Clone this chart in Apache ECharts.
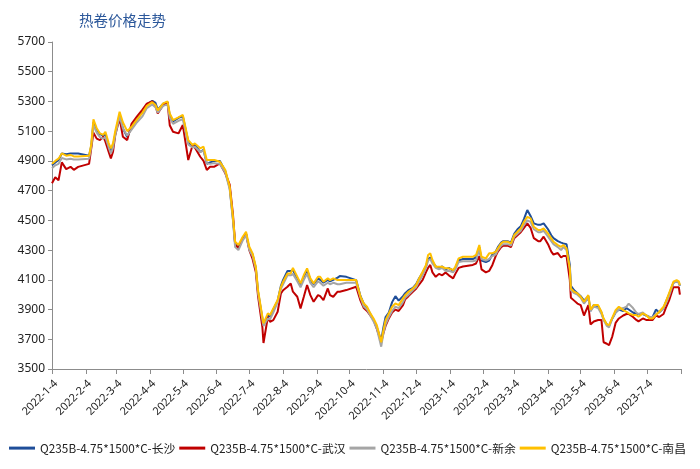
<!DOCTYPE html>
<html>
<head>
<meta charset="utf-8">
<script src="https://cdn.jsdelivr.net/npm/echarts@6/dist/echarts.min.js"></script>
<style>html,body{margin:0;padding:0;background:#fff}#c{width:700px;height:469px}</style>
</head>
<body>
<div id="c"></div>
<script>
const titleText = '热卷价格走势';
const seriesNames = ['Q235B-4.75*1500*C-长沙','Q235B-4.75*1500*C-武汉','Q235B-4.75*1500*C-新余','Q235B-4.75*1500*C-南昌'];
const tickLabels = ['2022-1-4','2022-2-4','2022-3-4','2022-4-4','2022-5-4','2022-6-4','2022-7-4','2022-8-4','2022-9-4','2022-10-4','2022-11-4','2022-12-4','2023-1-4','2023-2-4','2023-3-4','2023-4-4','2023-5-4','2023-6-4','2023-7-4'];
const axisEnd = '2023-8-4';
const dates = [
'2022-01-04','2022-01-07','2022-01-10','2022-01-13','2022-01-17','2022-01-21','2022-01-24','2022-01-28','2022-02-07','2022-02-09',
'2022-02-11','2022-02-14','2022-02-17','2022-02-20','2022-02-22','2022-02-25','2022-02-27','2022-03-01','2022-03-03','2022-03-07',
'2022-03-10','2022-03-14','2022-03-18','2022-03-23','2022-03-28','2022-04-01','2022-04-06','2022-04-09','2022-04-11','2022-04-16',
'2022-04-20','2022-04-22','2022-04-25','2022-04-30','2022-05-04','2022-05-09','2022-05-13','2022-05-15','2022-05-20','2022-05-23',
'2022-05-26','2022-05-29','2022-06-02','2022-06-07','2022-06-12','2022-06-16','2022-06-19','2022-06-21','2022-06-24','2022-06-28',
'2022-07-01','2022-07-04','2022-07-07','2022-07-10','2022-07-12','2022-07-16','2022-07-17','2022-07-21','2022-07-23','2022-07-26',
'2022-07-30','2022-08-02','2022-08-04','2022-08-08','2022-08-11','2022-08-13','2022-08-17','2022-08-20','2022-08-23','2022-08-26',
'2022-08-29','2022-09-01','2022-09-05','2022-09-07','2022-09-10','2022-09-14','2022-09-16','2022-09-19','2022-09-23','2022-09-25',
'2022-10-01','2022-10-10','2022-10-14','2022-10-17','2022-10-20','2022-10-23','2022-10-26','2022-10-29','2022-11-02','2022-11-04',
'2022-11-06','2022-11-09','2022-11-12','2022-11-15','2022-11-18','2022-11-22','2022-11-24','2022-11-27','2022-12-01','2022-12-04',
'2022-12-06','2022-12-10','2022-12-13','2022-12-15','2022-12-17','2022-12-19','2022-12-22','2022-12-25','2022-12-28','2022-12-31',
'2023-01-03','2023-01-07','2023-01-09','2023-01-12','2023-01-16','2023-01-25','2023-01-28','2023-01-31','2023-02-02','2023-02-06',
'2023-02-09','2023-02-12','2023-02-15','2023-02-17','2023-02-20','2023-02-22','2023-02-26','2023-03-01','2023-03-04','2023-03-07',
'2023-03-10','2023-03-13','2023-03-16','2023-03-19','2023-03-22','2023-03-26','2023-03-28','2023-03-31','2023-04-04','2023-04-07',
'2023-04-09','2023-04-13','2023-04-16','2023-04-18','2023-04-21','2023-04-24','2023-04-25','2023-04-28','2023-05-01','2023-05-04',
'2023-05-07','2023-05-11','2023-05-13','2023-05-16','2023-05-20','2023-05-23','2023-05-25','2023-05-28','2023-05-30','2023-06-02',
'2023-06-05','2023-06-08','2023-06-12','2023-06-15','2023-06-17','2023-06-21','2023-06-24','2023-06-26','2023-06-30','2023-07-03',
'2023-07-06','2023-07-09','2023-07-12','2023-07-15','2023-07-19','2023-07-21','2023-07-24','2023-07-28','2023-07-31','2023-08-02',
'2023-08-03'
];
const changsha = [
4870,4890,4905,4950,4945,4950,4950,4950,4935,5000,
5160,5110,5080,5070,5080,5000,4970,5000,5080,5210,
5120,5060,5130,5180,5230,5280,5305,5290,5245,5285,
5295,5210,5165,5190,5200,5030,4990,5010,4960,4975,
4880,4890,4900,4900,4830,4720,4510,4340,4320,4380,
4410,4310,4270,4180,4020,3840,3800,3860,3855,3900,
3960,4060,4100,4160,4160,4165,4110,4070,4120,4165,
4100,4070,4110,4100,4080,4100,4090,4100,4115,4125,
4120,4098,3990,3940,3910,3870,3830,3780,3690,3780,
3850,3880,3950,3990,3960,3990,4010,4030,4045,4070,
4100,4150,4190,4240,4250,4220,4190,4180,4190,4170,
4180,4160,4180,4230,4240,4240,4250,4320,4230,4220,
4230,4270,4290,4320,4350,4360,4360,4350,4410,4440,
4460,4510,4569,4530,4480,4470,4470,4480,4440,4400,
4380,4360,4350,4345,4340,4200,4060,4030,4010,3990,
3960,3990,3890,3930,3920,3880,3835,3800,3790,3840,
3880,3900,3890,3910,3900,3880,3870,3870,3870,3860,
3850,3850,3900,3880,3910,3950,4000,4080,4090,4080,
4060
];
const wuhan = [
4750,4790,4770,4890,4845,4860,4840,4860,4880,4985,
5090,5050,5040,5063,5030,4960,4917,4962,5074,5186,
5063,5040,5150,5200,5245,5285,5300,5270,5220,5276,
5295,5140,5096,5085,5141,4906,5007,4990,4928,4900,
4839,4861,4861,4883,4816,4740,4540,4340,4310,4380,
4410,4300,4240,4150,3990,3780,3675,3850,3818,3829,
3885,4009,4030,4053,4076,4020,3986,3908,3986,4065,
3997,3952,3997,3990,3964,4042,3997,3986,4020,4020,
4031,4053,3960,3910,3890,3860,3830,3770,3680,3740,
3790,3840,3880,3900,3890,3930,3970,3990,4020,4040,
4060,4100,4150,4180,4200,4150,4120,4140,4130,4150,
4130,4110,4140,4180,4190,4200,4210,4260,4170,4150,
4160,4200,4260,4290,4320,4330,4330,4320,4380,4400,
4420,4450,4480,4450,4380,4360,4360,4390,4340,4290,
4270,4280,4250,4260,4260,4100,3980,3960,3940,3930,
3860,3930,3800,3820,3830,3830,3680,3670,3660,3720,
3810,3840,3860,3870,3870,3850,3830,3820,3840,3830,
3830,3830,3860,3850,3870,3910,3960,4050,4050,4050,
4000
];
const xinyu = [
4850,4870,4880,4920,4910,4915,4910,4910,4915,4990,
5140,5090,5060,5050,5060,4990,4950,4990,5070,5200,
5120,5070,5110,5160,5200,5255,5280,5260,5225,5270,
5280,5190,5150,5170,5180,5010,4990,4995,4960,4970,
4885,4880,4885,4880,4820,4710,4500,4320,4300,4365,
4400,4300,4260,4170,4010,3830,3790,3840,3835,3880,
3950,4040,4070,4130,4130,4140,4090,4050,4100,4140,
4080,4050,4090,4080,4060,4080,4070,4080,4070,4070,
4080,4080,3980,3920,3900,3860,3820,3770,3650,3740,
3800,3850,3890,3920,3910,3950,3980,4000,4030,4050,
4080,4130,4180,4230,4240,4210,4180,4170,4180,4160,
4160,4150,4170,4220,4225,4225,4230,4310,4240,4230,
4240,4260,4270,4300,4330,4340,4340,4330,4390,4410,
4430,4470,4500,4490,4440,4420,4420,4430,4390,4360,
4340,4320,4300,4320,4300,4170,4030,4010,4000,3980,
3940,3980,3890,3920,3910,3870,3830,3790,3780,3840,
3880,3900,3910,3920,3940,3910,3880,3870,3880,3860,
3850,3850,3870,3880,3910,3940,3990,4080,4090,4080,
4060
];
const nanchang = [
4880,4900,4915,4950,4935,4940,4930,4930,4935,5010,
5180,5120,5085,5075,5096,5020,4985,5020,5100,5231,
5160,5100,5130,5180,5225,5270,5295,5276,5240,5287,
5300,5220,5175,5193,5209,5040,5007,5018,4985,4996,
4906,4906,4906,4894,4839,4726,4524,4356,4334,4390,
4423,4322,4278,4188,4031,3851,3807,3874,3863,3908,
3964,4053,4087,4143,4143,4180,4121,4076,4132,4177,
4110,4076,4121,4121,4087,4110,4098,4110,4098,4098,
4098,4098,3986,3941,3919,3874,3840,3795,3680,3760,
3829,3874,3919,3941,3930,3975,3997,4020,4042,4065,
4098,4154,4199,4267,4278,4233,4188,4188,4188,4177,
4177,4166,4188,4244,4255,4255,4267,4334,4255,4244,
4278,4278,4289,4312,4345,4356,4356,4345,4401,4423,
4446,4491,4524,4513,4457,4435,4435,4446,4412,4379,
4356,4334,4322,4334,4312,4177,4042,4020,4009,3986,
3952,3997,3900,3930,3930,3885,3840,3800,3795,3845,
3896,3919,3896,3885,3874,3863,3863,3851,3874,3863,
3840,3840,3863,3885,3919,3952,4009,4087,4098,4090,
4065
];
const colors = ['#1F4E99','#C00000','#A5A5A5','#FFC000'];

function toTs(s){const p=s.split('-').map(Number);return new Date(p[0],p[1]-1,p[2]).getTime();}
function fmt(v){const d=new Date(v);return d.getFullYear()+'-'+(d.getMonth()+1)+'-'+d.getDate();}
const labelVals = tickLabels.map(toTs);
const tickVals = labelVals.concat([toTs(axisEnd)]);
const allVals = [changsha, wuhan, xinyu, nanchang];

const chart = echarts.init(document.getElementById('c'));
chart.setOption({
  animation:false,
  backgroundColor:'#fff',
  title:{text:titleText,left:74,top:8,textStyle:{color:'#2B579A',fontSize:14.5,fontWeight:'normal',fontFamily:'Noto Sans CJK SC'}},
  grid:{left:52,right:19,top:42,bottom:100,containLabel:false},
  legend:{bottom:10,left:4,width:696,itemGap:4,itemWidth:26,itemHeight:3,icon:'rect',
    textStyle:{fontSize:11.8,color:'#222',fontFamily:'Noto Sans CJK SC'},
    data:seriesNames},
  xAxis:{type:'value',min:toTs(tickLabels[0]),max:toTs(axisEnd),scale:true,
    axisLine:{lineStyle:{color:'#8C8C8C'}},
    axisTick:{show:true,customValues:tickVals,length:5,lineStyle:{color:'#8C8C8C'}},
    axisLabel:{customValues:labelVals,rotate:45,fontSize:11,color:'#222',margin:9,verticalAlign:'top',formatter:fmt,fontFamily:'Noto Sans'},
    splitLine:{show:false}},
  yAxis:{type:'value',min:3500,max:5700,interval:200,
    axisLine:{show:true,lineStyle:{color:'#8C8C8C'}},
    axisTick:{show:true,length:4,lineStyle:{color:'#8C8C8C'}},
    axisLabel:{fontSize:12,color:'#222',margin:7,fontFamily:'Noto Sans',formatter:v=>String(v)},
    splitLine:{show:false}},
  series: seriesNames.map((n,i)=>({
    name:n,type:'line',showSymbol:false,symbol:'none',
    data:dates.map((d,j)=>[toTs(d),allVals[i][j]]),
    lineStyle:{width:2,color:colors[i]},itemStyle:{color:colors[i]},z:2+i
  }))
});
</script>
</body>
</html>
